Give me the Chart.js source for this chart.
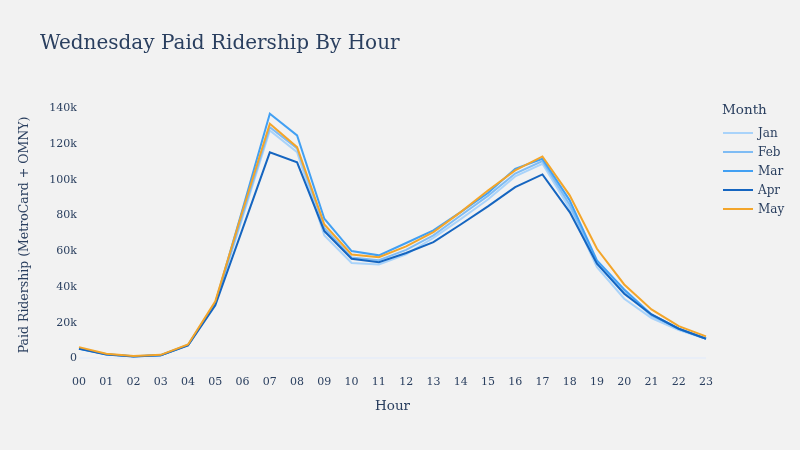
<!DOCTYPE html>
<html>
<head>
<meta charset="utf-8">
<script src="https://cdn.jsdelivr.net/npm/chart.js@4.4.1/dist/chart.umd.min.js"></script>
<style>
  html, body { margin: 0; padding: 0; background: #f2f2f2; }
  #wrap { position: relative; width: 800px; height: 450px; background: #f2f2f2; font-family: "DejaVu Serif", serif; color: #2a3f5f; }
  #c { position: absolute; left: 0; top: 0; }
  #title { position: absolute; left: 40px; top: 29px; font-size: 20px; line-height: 26px; white-space: nowrap; }
  #legend { position: absolute; left: 722px; top: 101px; font-size: 12px; }
  #legend .lt { font-size: 13.5px; margin-bottom: 6px; }
  #legend .it { display: flex; align-items: center; height: 19px; }
  #legend .sw { width: 30px; height: 2px; margin-left: 1px; margin-right: 5px; }
</style>
</head>
<body>
<div id="wrap">
  <canvas id="c" width="800" height="450"></canvas>
  <div id="title">Wednesday Paid Ridership By Hour</div>
  <div id="legend"></div>
</div>
<script>
const hours = ['00','01','02','03','04','05','06','07','08','09','10','11','12','13','14','15','16','17','18','19','20','21','22','23'];
const months = ['Jan','Feb','Mar','Apr','May'];
const colors = ['#a9d3fa','#7fbcf4','#42a0f3','#1565c0','#f3a52a'];
const jan = [5400, 2200, 1100, 1700, 7300, 30500, 79000, 127700, 115500, 68900, 53400, 52600, 58200, 67500, 78000, 89000, 101900, 109000, 84000, 51100, 33400, 22600, 15800, 11000];
const feb = [5600, 2300, 1200, 1800, 7500, 31000, 80500, 129500, 117600, 73000, 56500, 55000, 60800, 68900, 80000, 91000, 103500, 110500, 86000, 53500, 37000, 24000, 16600, 11200];
const mar = [5500, 2300, 1200, 1800, 7500, 31000, 83500, 137000, 124900, 78200, 60100, 57700, 64600, 71700, 81900, 92600, 106200, 111800, 88500, 54900, 38600, 24600, 16600, 11000];
const apr = [5400, 2200, 1100, 1700, 7200, 29700, 72500, 115400, 109800, 71300, 55800, 53900, 59000, 65100, 75000, 85100, 95900, 103000, 81900, 53000, 36200, 24600, 16600, 11000];
const may = [6300, 2600, 1300, 2000, 7800, 32000, 82500, 131400, 118300, 75000, 58200, 56700, 62700, 70700, 81900, 94000, 105300, 113100, 91300, 61400, 41400, 27400, 18100, 12300];
const yTicks = [0, 20000, 40000, 60000, 80000, 100000, 120000, 140000];
const yTickLabels = ['0','20k','40k','60k','80k','100k','120k','140k'];

const series = [jan, feb, mar, apr, may];
const FONT = '"DejaVu Serif", serif';
const INK = '#2a3f5f';

const datasets = series.map((d, i) => ({
  label: months[i],
  data: d,
  borderColor: colors[i],
  backgroundColor: colors[i],
  borderWidth: 2,
  pointRadius: 0,
  tension: 0,
  fill: false,
  order: series.length - 1 - i
}));

// HTML legend
const lg = document.getElementById('legend');
let html = '<div class="lt">Month</div>';
months.forEach((m, i) => {
  html += '<div class="it"><span class="sw" style="background:' + colors[i] + '"></span><span>' + m + '</span></div>';
});
lg.innerHTML = html;

new Chart(document.getElementById('c'), {
  type: 'line',
  data: { labels: hours, datasets },
  options: {
    responsive: false,
    animation: false,
    layout: { padding: { left: 12, right: 94, top: 100, bottom: 30 } },
    plugins: { legend: { display: false }, tooltip: { enabled: false }, title: { display: false } },
    scales: {
      x: {
        offset: false,
        grid: { display: false, drawTicks: false },
        border: { display: false },
        ticks: { color: INK, font: { family: FONT, size: 11 }, maxRotation: 0, autoSkip: false, padding: 6 },
        title: { display: true, text: 'Hour', color: INK, font: { family: FONT, size: 13.5 }, padding: { top: 4, bottom: 5 } },
        afterFit: (s) => { s.height = 50; }
      },
      y: {
        min: -6500,
        max: 144700,
        afterBuildTicks: (s) => { s.ticks = yTicks.map(v => ({ value: v })); },
        grid: {
          drawTicks: false,
          lineWidth: 2,
          color: (ctx) => (ctx.tick && ctx.tick.value === 0) ? '#e9eef7' : 'rgba(0,0,0,0)'
        },
        border: { display: false },
        ticks: {
          color: INK, font: { family: FONT, size: 11 }, padding: 2,
          callback: (v) => { const k = yTicks.indexOf(v); return k >= 0 ? yTickLabels[k] : ''; }
        },
        title: { display: true, text: 'Paid Ridership (MetroCard + OMNY)', color: INK, font: { family: FONT, size: 12.5 }, padding: { top: 5, bottom: 0 } },
        afterFit: (s) => { s.width = 67; }
      }
    }
  }
});
</script>
</body>
</html>
